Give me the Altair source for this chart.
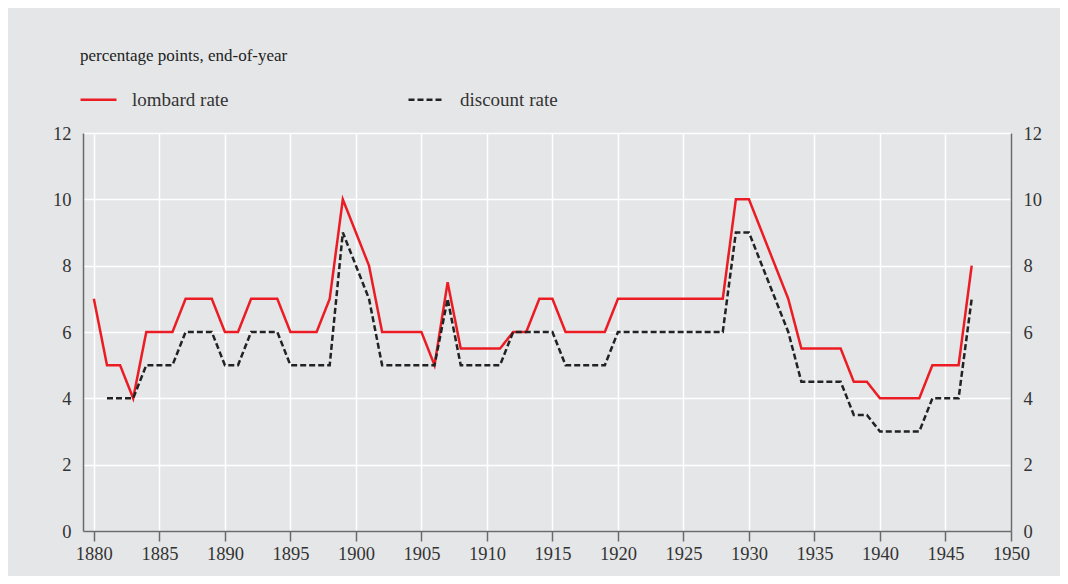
import altair as alt
import pandas as pd

years = list(range(1880, 1948))

lombard = [
    7, 5, 5, 4, 6, 6, 6, 7, 7, 7,          # 1880-1889
    6, 6, 7, 7, 7, 6, 6, 6, 7, 10,         # 1890-1899
    9, 8, 6, 6, 6, 6, 5, 7.5, 5.5, 5.5,    # 1900-1909
    5.5, 5.5, 6, 6, 7, 7, 6, 6, 6, 6,      # 1910-1919
    7, 7, 7, 7, 7, 7, 7, 7, 7, 10,         # 1920-1929
    10, 9, 8, 7, 5.5, 5.5, 5.5, 5.5, 4.5, 4.5,  # 1930-1939
    4, 4, 4, 4, 5, 5, 5, 8,                # 1940-1947
]

discount = [
    None, 4, 4, 4, 5, 5, 5, 6, 6, 6,       # 1880-1889
    5, 5, 6, 6, 6, 5, 5, 5, 5, 9,          # 1890-1899
    8, 7, 5, 5, 5, 5, 5, 7, 5, 5,          # 1900-1909
    5, 5, 6, 6, 6, 6, 5, 5, 5, 5,          # 1910-1919
    6, 6, 6, 6, 6, 6, 6, 6, 6, 9,          # 1920-1929
    9, 8, 7, 6, 4.5, 4.5, 4.5, 4.5, 3.5, 3.5,  # 1930-1939
    3, 3, 3, 3, 4, 4, 4, 7,                # 1940-1947
]

series_names = ["lombard rate", "discount rate"]
series_colors = ["#ec1c24", "#222222"]
x_ticks = list(range(1880, 1951, 5))
y_ticks = list(range(0, 13, 2))
title_text = "percentage points, end-of-year"

rows = []
for y, l, d in zip(years, lombard, discount):
    if l is not None:
        rows.append({"year": y, "value": l, "series": series_names[0]})
    if d is not None:
        rows.append({"year": y, "value": d, "series": series_names[1]})
df = pd.DataFrame(rows)

FONT = "'Liberation Serif', 'DejaVu Serif', 'Times New Roman', serif"
AXIS_GRAY = "#6a6a6a"
TEXT = "#333333"

xscale = alt.Scale(domain=[1879.17, 1950], nice=False, zero=False)
yscale = alt.Scale(domain=[0, 12], nice=False, zero=False)

x_enc = alt.X(
    "year:Q",
    scale=xscale,
    axis=alt.Axis(
        values=x_ticks, format="d", title=None, grid=True,
        gridColor="white", gridWidth=1.5, domainColor=AXIS_GRAY, domainWidth=1.5,
        tickColor=AXIS_GRAY, tickWidth=1.5, tickSize=10, labelPadding=3,
        labelFont=FONT, labelFontSize=18.5, labelColor=TEXT, labelFlush=False,
    ),
)

legend = alt.Legend(
    orient="none", legendX=-4, legendY=-53, direction="horizontal", title=None,
    symbolType="stroke", symbolSize=1296, symbolStrokeWidth=2.5,
    labelFont=FONT, labelFontSize=19, labelColor=TEXT, labelOffset=14,
    columnPadding=174, labelLimit=400,
)

lines = alt.Chart(df).mark_line(strokeWidth=2.5).encode(
    x=x_enc,
    y=alt.Y(
        "value:Q", scale=yscale,
        axis=alt.Axis(
            values=y_ticks, title=None, grid=True, gridColor="white", gridWidth=1.5,
            ticks=False, labelPadding=12, domainColor=AXIS_GRAY, domainWidth=1.5,
            labelFont=FONT, labelFontSize=18.5, labelColor=TEXT, labelFlush=False,
        ),
    ),
    color=alt.Color("series:N", scale=alt.Scale(domain=series_names, range=series_colors), legend=legend),
    strokeDash=alt.StrokeDash("series:N", scale=alt.Scale(domain=series_names, range=[[1, 0], [6, 3]]), legend=legend),
)

right_axis = alt.Chart(df).mark_line(opacity=0).encode(
    x=x_enc,
    y=alt.Y(
        "value:Q", scale=yscale,
        axis=alt.Axis(
            orient="right", values=y_ticks, title=None, grid=False,
            ticks=False, labelPadding=12, domainColor=AXIS_GRAY, domainWidth=1.5,
            labelFont=FONT, labelFontSize=18.5, labelColor=TEXT, labelFlush=False,
        ),
    ),
    detail="series:N",
)

chart = (
    alt.layer(lines, right_axis)
    .resolve_scale(y="shared")
    .resolve_axis(y="independent")
    .properties(
        width=928, height=398,
        autosize=alt.AutoSizeParams(type="none"),
        padding={"left": 75, "top": 125, "right": 49, "bottom": 45},
        title=alt.TitleParams(
            title_text, anchor="start", frame="group", font=FONT, fontSize=17,
            fontWeight="normal", color="#222222", dx=-3, offset=15,
        ),
    )
    .configure(background="#e5e6e8")
    .configure_view(stroke=None)
)

chart.save("out.html", embed_options={"renderer": "svg", "actions": False})
